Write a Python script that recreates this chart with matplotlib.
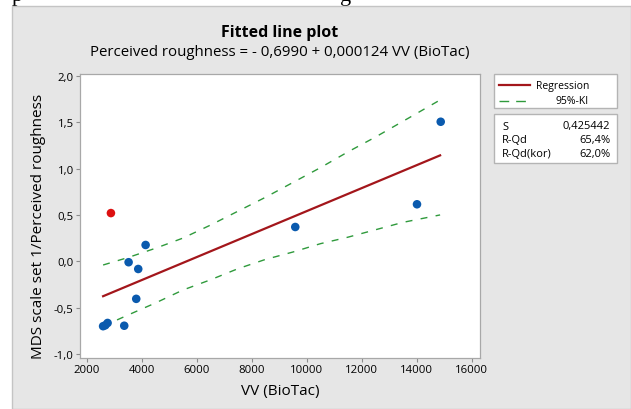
import matplotlib
matplotlib.use("Agg")
import matplotlib.pyplot as plt
from matplotlib.patches import Rectangle
from matplotlib.lines import Line2D
from matplotlib.ticker import FuncFormatter

# ---------------- DATA ----------------
vv = [2600, 2680, 2763, 3368, 3527, 3804, 3877, 4145, 9585, 14010, 14872]
rough = [-0.70, -0.69, -0.665, -0.695, -0.01, -0.405, -0.083, 0.176, 0.37, 0.615, 1.505]

outlier_vv = [2884]
outlier_rough = [0.52]

intercept = -0.6990
slope = 0.000124
fit_x = [2600, 14850]

ci_x = [2600, 3500, 4500, 5500, 6500, 7500, 8500, 9500, 10500, 11500, 12500, 13500, 14850]
ci_upper = [-0.04, 0.04, 0.14, 0.25, 0.39, 0.54, 0.69, 0.85, 1.01, 1.18, 1.34, 1.51, 1.74]
ci_lower = [-0.70, -0.58, -0.45, -0.31, -0.20, -0.08, 0.02, 0.10, 0.19, 0.26, 0.34, 0.42, 0.50]

x_ticks = [2000, 4000, 6000, 8000, 10000, 12000, 14000, 16000]
y_ticks = [-1.0, -0.5, 0.0, 0.5, 1.0, 1.5, 2.0]

stats_names = ["S", "R-Qd", "R-Qd(kor)"]
stats_values = ["0,425442", "65,4%", "62,0%"]

# ---------------- STYLE ----------------
W, H = 631, 410
FONT = "Open Sans"
RED = "#a3161b"
GREEN = "#2f9a3c"
BLUE = "#0a5aae"
GREY_PANEL = "#e6e6e6"

plt.rcParams["font.family"] = [FONT, "DejaVu Sans"]


def fx(x):
    return x / W


def fy(y):
    return 1 - y / H


fig = plt.figure(figsize=(W / 100, H / 100), dpi=100)
fig.patch.set_facecolor("white")

# grey panel of the screenshot
fig.patches.append(Rectangle((fx(12), 0), 1 - fx(12), fy(7), transform=fig.transFigure,
                             facecolor=GREY_PANEL, edgecolor="#c4c4c4", linewidth=1, zorder=-5))

# cut off document text above the panel
fig.text(fx(12), fy(1), "p", family="Liberation Serif", fontsize=16, va="baseline", zorder=-10)
fig.text(fx(340), fy(1), "g", family="Liberation Serif", fontsize=16, va="baseline", zorder=-10)

# ---------------- PLOT ----------------
ax = fig.add_axes([fx(80), fy(359), fx(480) - fx(80), fy(75) - fy(359)])
ax.set_facecolor("white")

ax.plot(ci_x, ci_upper, color=GREEN, lw=1.0, dashes=(5, 6))
ax.plot(ci_x, ci_lower, color=GREEN, lw=1.0, dashes=(5, 6))
ax.plot(fit_x, [intercept + slope * x for x in fit_x], color=RED, lw=1.6)
ax.scatter(vv, rough, s=38, color=BLUE, zorder=3, edgecolors="none")
ax.scatter(outlier_vv, outlier_rough, s=38, color="#dd1010", zorder=3, edgecolors="none")

ax.set_xlim(1760, 16300)
ax.set_ylim(-1.043, 2.02)
ax.set_xticks(x_ticks)
ax.set_yticks(y_ticks)
ax.yaxis.set_major_formatter(FuncFormatter(lambda v, p: f"{v:.1f}".replace(".", ",")))
ax.tick_params(length=3, width=0.8, color="#8c8c8c", labelsize=8.2, pad=1.5)
for s in ax.spines.values():
    s.set_color("#a8a8a8")
    s.set_linewidth(0.9)

fig.text(fx(280), fy(33), "Fitted line plot", ha="center", va="center",
         fontsize=11.5, fontweight="bold")
fig.text(fx(280), fy(52), "Perceived roughness = - 0,6990 + 0,000124 VV (BioTac)",
         ha="center", va="center", fontsize=10.8)
fig.text(fx(39), fy(226), "MDS scale set 1/Perceived roughness", rotation=90,
         ha="center", va="center", fontsize=11)
fig.text(fx(280), fy(392), "VV (BioTac)", ha="center", va="center", fontsize=11)

# ---------------- LEGEND BOXES ----------------
for top, bottom in [(75, 109), (115, 164)]:
    fig.patches.append(Rectangle((fx(494), fy(bottom)), fx(617) - fx(494), fy(top) - fy(bottom),
                                 transform=fig.transFigure, facecolor="white",
                                 edgecolor="#b4b4b4", linewidth=1, zorder=1))

fig.lines.append(Line2D([fx(499), fx(530)], [fy(86), fy(86)], transform=fig.transFigure,
                        color=RED, lw=1.6, zorder=2))
fig.lines.append(Line2D([fx(499), fx(530)], [fy(102), fy(102)], transform=fig.transFigure,
                        color=GREEN, lw=1.0, dashes=(7, 5), zorder=2))
fig.text(fx(589), fy(86), "Regression", ha="right", va="center", fontsize=7.5, zorder=3)
fig.text(fx(589), fy(102), "95%-KI", ha="right", va="center", fontsize=7.5, zorder=3)

for i, (n, v) in enumerate(zip(stats_names, stats_values)):
    y = 127 + i * 14
    fig.text(fx(502), fy(y), n, ha="left", va="center", fontsize=8, zorder=3)
    fig.text(fx(610), fy(y), v, ha="right", va="center", fontsize=8, zorder=3)

fig.savefig("out.png", dpi=100)
